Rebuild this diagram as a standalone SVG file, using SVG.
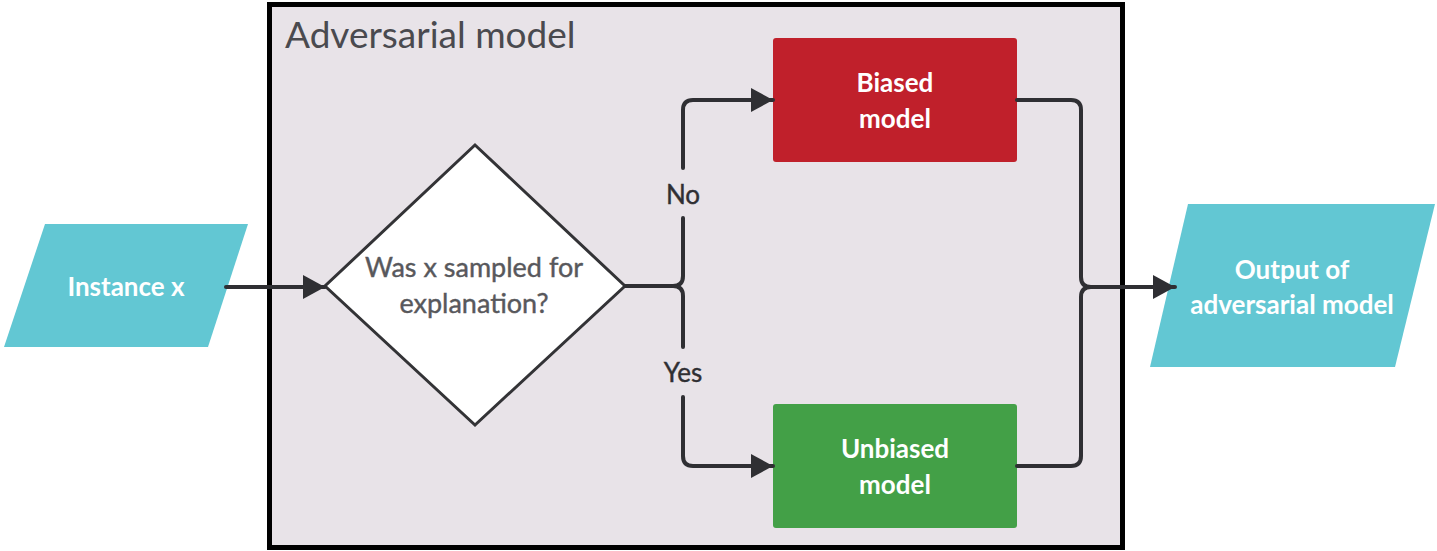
<svg xmlns="http://www.w3.org/2000/svg" width="1437" height="551" viewBox="0 0 1437 551">
<defs>
<style>
.conn{fill:none;stroke:#2f2f33;stroke-width:4;stroke-linecap:round;stroke-linejoin:round}
.io{fill:#62c7d3}
.wt{font-family:Lato,"Liberation Sans",sans-serif;font-weight:bold;fill:#ffffff;text-anchor:middle;font-size:26px}
.lbl{font-family:Lato,"Liberation Sans",sans-serif;fill:#2f2f33;text-anchor:middle;font-size:26px;stroke:#2f2f33;stroke-width:0.4}
.dt{font-family:Lato,"Liberation Sans",sans-serif;fill:#58585c;text-anchor:middle;font-size:27px;stroke:#58585c;stroke-width:0.4}
</style>
<marker id="arr" markerUnits="userSpaceOnUse" markerWidth="24" markerHeight="26" refX="22" refY="12" orient="auto">
<path d="M0,0 L22,12 L0,24 Z" fill="#2f2f33"/>
</marker>
</defs>
<rect x="0" y="0" width="1437" height="551" fill="#ffffff"/>
<g id="adversarial-model">
<rect x="269.5" y="4.5" width="853" height="543" fill="#e8e3e8" stroke="#000000" stroke-width="5"/>
<text x="285" y="48" font-family="Lato,'Liberation Sans',sans-serif" font-size="37" fill="#4a4a4f">Adversarial model</text>
</g>
<g id="instance-x">
<polygon class="io" points="45,224 248,224 208,347 4,347"/>
<text class="wt" x="126" y="296">Instance x</text>
</g>
<g id="decision">
<polygon points="475,145 625,286 475,425 325,286" fill="#ffffff" stroke="#333336" stroke-width="3"/>
<text class="dt" x="474" y="277">Was x sampled for</text>
<text class="dt" x="474" y="313">explanation?</text>
</g>
<g id="biased-model">
<rect x="773" y="38" width="244" height="124" rx="3" fill="#c0202b"/>
<text class="wt" x="895" y="92">Biased</text>
<text class="wt" x="895" y="128">model</text>
</g>
<g id="unbiased-model">
<rect x="773" y="404" width="244" height="124" rx="3" fill="#43a047"/>
<text class="wt" x="895" y="458">Unbiased</text>
<text class="wt" x="895" y="494">model</text>
</g>
<g id="output">
<polygon class="io" points="1188,204 1435,204 1395,367 1150,367"/>
<text class="wt" x="1292" y="279">Output of</text>
<text class="wt" x="1292" y="314">adversarial model</text>
</g>
<g id="connectors">
<path class="conn" d="M226,287 H325" marker-end="url(#arr)"/>
<path class="conn" d="M625,286 H673 Q683,286 683,276 V218"/>
<path class="conn" d="M683,168 V110 Q683,100 693,100 H773" marker-end="url(#arr)"/>
<path class="conn" d="M673,286 Q683,286 683,296 V347"/>
<path class="conn" d="M683,397 V456 Q683,466 693,466 H773" marker-end="url(#arr)"/>
<path class="conn" d="M1017,100 H1071 Q1081,100 1081,110 V277 Q1081,287 1091,287 H1175" marker-end="url(#arr)"/>
<path class="conn" d="M1017,466 H1071 Q1081,466 1081,456 V297 Q1081,287 1091,287"/>
<text class="lbl" x="683" y="204">No</text>
<text class="lbl" x="683" y="382">Yes</text>
</g>
</svg>
